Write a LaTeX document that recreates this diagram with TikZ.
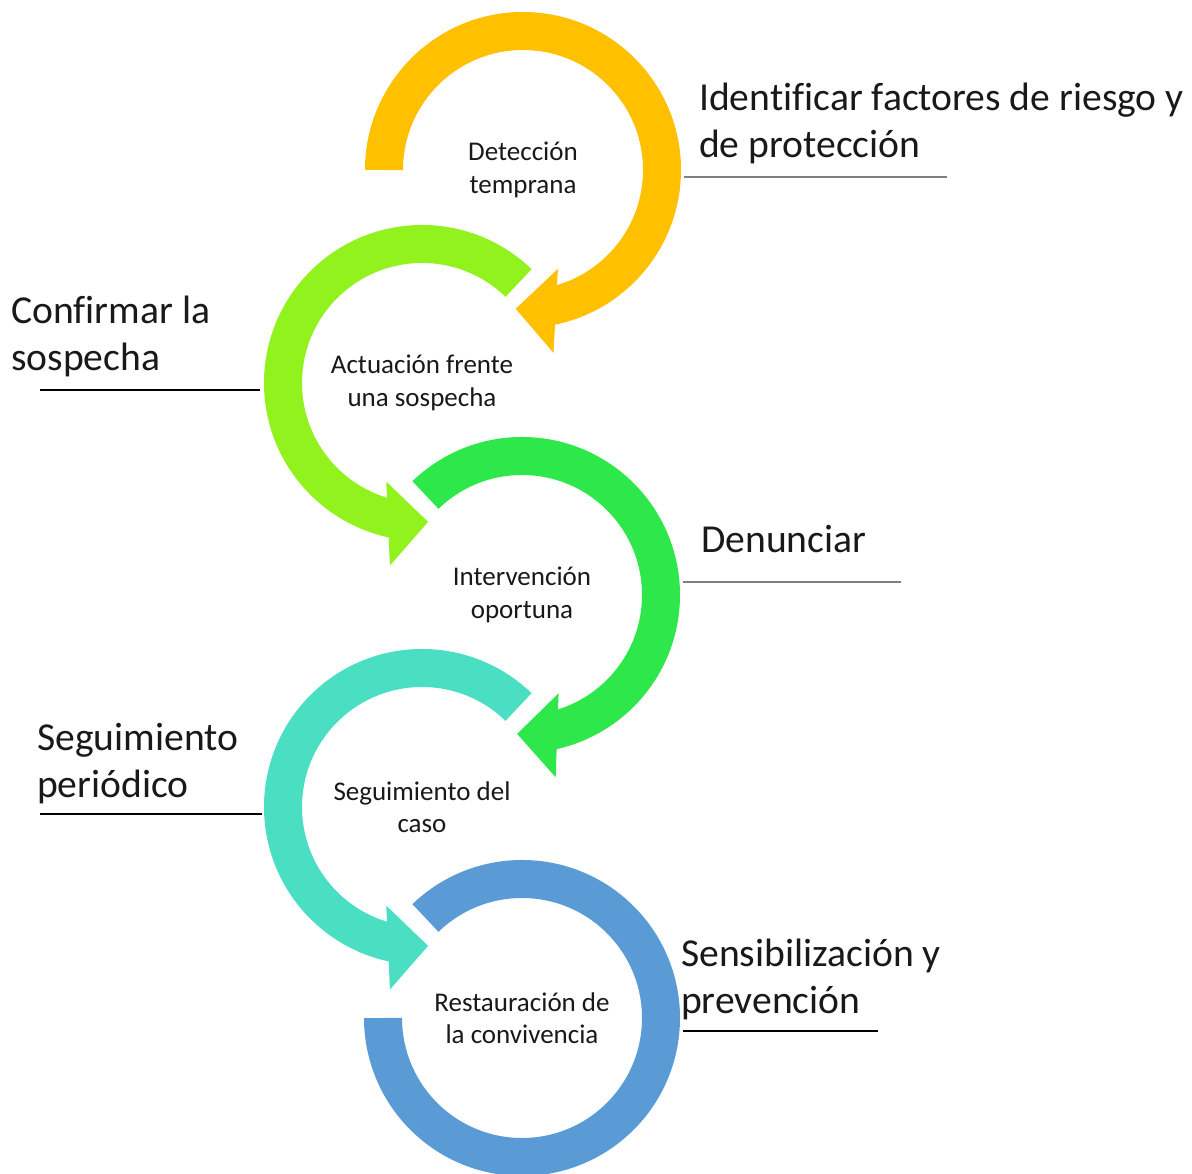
\documentclass[tikz,border=0pt]{standalone}
\usepackage{fontspec}
\setmainfont{Carlito}[Ligatures=CommonOff]
\usetikzlibrary{calc}
\definecolor{cOrange}{HTML}{FFC000}
\definecolor{cLime}{HTML}{92F21E}
\definecolor{cGreen}{HTML}{2EE84B}
\definecolor{cTeal}{HTML}{4ADEC2}
\definecolor{cBlue}{HTML}{5B9BD5}
\begin{document}
\begin{tikzpicture}[x=1pt,y=1pt,
  band/.style={line width=38pt},
  innertext/.style={font=\fontsize{27}{32.5}\selectfont, align=center, inner sep=0pt, text=black!90},
  biglabel/.style={font=\fontsize{39.6}{47.5}\selectfont, align=left, inner sep=0pt, anchor=base west, text=black!90},
  thinrule/.style={line width=1.2pt, black},
  grayrule/.style={line width=2pt, black!50}]
\useasboundingbox[fill=white] (0,0) rectangle (1192,1174);
\coordinate (C1) at (523,1004);
\coordinate (C2) at (422,791);
\coordinate (C3) at (522,579);
\coordinate (C4) at (422,367);
\coordinate (C5) at (522,156);
% circle 1
\draw[band, cOrange] ($(C1)+(180:139pt)$) arc[start angle=180, end angle=-80, radius=139pt];
\coordinate (T1) at ($(C1)+(-93:139pt)$);
\fill[cOrange] (T1) -- ($(T1)+(-3:40pt)+(-93:42pt)$) -- ($(T1)+(-3:40pt)+(87:42pt)$) -- cycle;
% circle 2
\draw[band, cLime] ($(C2)+(46:139pt)$) arc[start angle=46, end angle=259.5, radius=139pt];
\coordinate (T2) at ($(C2)+(272.5:139pt)$);
\fill[cLime] (T2) -- ($(T2)+(182.5:40pt)+(272.5:42pt)$) -- ($(T2)+(182.5:40pt)+(92.5:42pt)$) -- cycle;
% circle 3
\draw[band, cGreen] ($(C3)+(134:139pt)$) arc[start angle=134, end angle=-79, radius=139pt];
\coordinate (T3) at ($(C3)+(-92:139pt)$);
\fill[cGreen] (T3) -- ($(T3)+(-2:40pt)+(-92:42pt)$) -- ($(T3)+(-2:40pt)+(88:42pt)$) -- cycle;
% circle 4
\draw[band, cTeal] ($(C4)+(46:139pt)$) arc[start angle=46, end angle=259.5, radius=139pt];
\coordinate (T4) at ($(C4)+(272.5:139pt)$);
\fill[cTeal] (T4) -- ($(T4)+(182.5:40pt)+(272.5:42pt)$) -- ($(T4)+(182.5:40pt)+(92.5:42pt)$) -- cycle;
% circle 5
\draw[band, cBlue] ($(C5)+(134:139pt)$) arc[start angle=134, end angle=-180, radius=139pt];
% inner texts
\node[innertext] (N1) at (C1) {Detección\\temprana};
\node[innertext] (N2) at (C2) {Actuación frente\\una sospecha};
\node[innertext] (N3) at (C3) {Intervención\\oportuna};
\node[innertext] (N4) at (C4) {Seguimiento del\\caso};
\node[innertext] (N5) at (C5) {Restauración de\\la convivencia};
% side labels (anchor = baseline of last line)
\node[biglabel] (L1) at (699,1016) {Identificar factores de riesgo y\\de protección};
\node[biglabel] (L2) at (11,803) {Confirmar la\\sospecha};
\node[biglabel] (L3) at (701,621) {Denunciar};
\node[biglabel] (L4) at (37,376) {Seguimiento\\periódico};
\node[biglabel] (L5) at (681,160) {Sensibilización y\\prevención};
% underlines
\coordinate (U1a) at (684,997); \coordinate (U1b) at (947,997);
\coordinate (U2a) at (40,784); \coordinate (U2b) at (260,784);
\coordinate (U3a) at (683,592); \coordinate (U3b) at (901,592);
\coordinate (U4a) at (40,360); \coordinate (U4b) at (262,360);
\coordinate (U5a) at (683,143); \coordinate (U5b) at (878,143);
\draw[grayrule] (U1a) -- (U1b);
\draw[thinrule] (U2a) -- (U2b);
\draw[grayrule] (U3a) -- (U3b);
\draw[thinrule] (U4a) -- (U4b);
\draw[thinrule] (U5a) -- (U5b);
\end{tikzpicture}
\end{document}
